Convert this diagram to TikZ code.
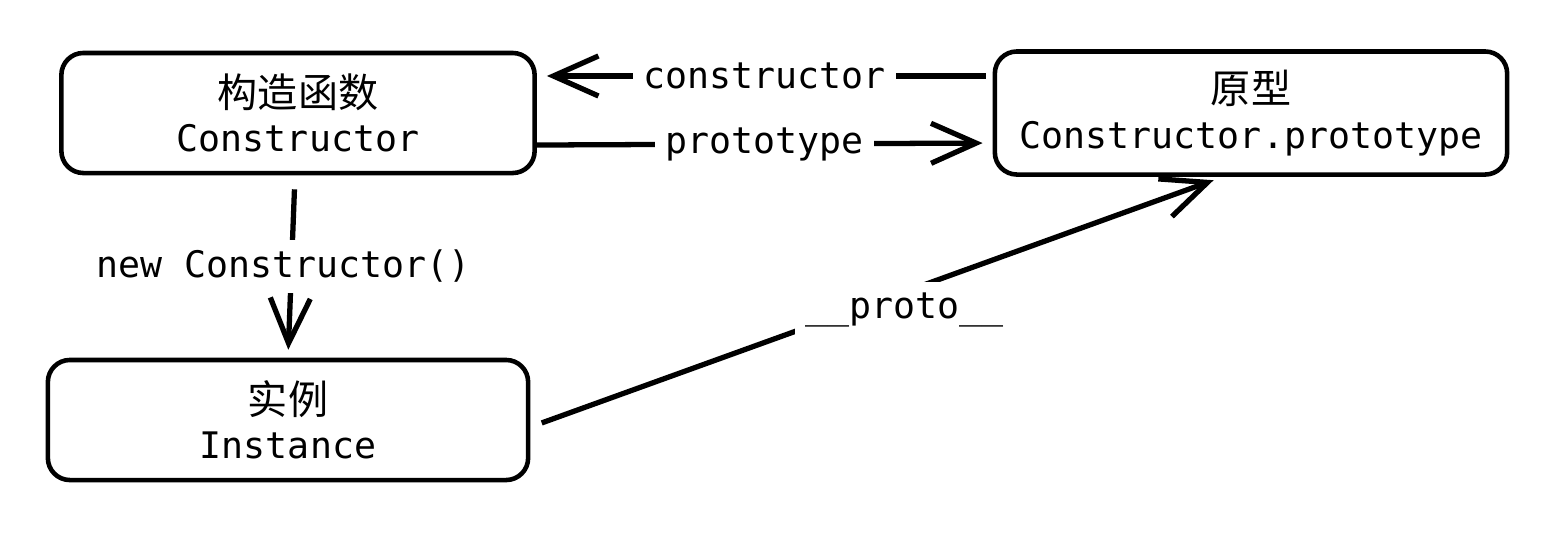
\documentclass[tikz,border=0pt]{standalone}
\usepackage{fontspec}
\setmonofont{DejaVu Sans Mono}
\newfontfamily\cjk{Noto Sans CJK SC}
\usetikzlibrary{arrows.meta}

\tikzset{
  box/.style={draw, line width=1.3pt, rounded corners=0.22cm, align=center,
    font=\fontsize{10.4}{13.6}\selectfont\ttfamily},
  link/.style={line width=1.5pt, -{Straight Barb[length=4.5mm, width=4mm, line width=1.5pt]}},
  lbl/.style={fill=white, inner sep=3pt, font=\fontsize{10.4}{12}\selectfont\ttfamily}
}

\begin{document}
\begin{tikzpicture}[x=0.01cm, y=-0.01cm]
            \useasboundingbox (0,0) rectangle (1546,536);
            \node[box, minimum width=4.73cm, minimum height=1.2cm] (ctor) at (298,113) {{\cjk\fontsize{11.4}{13.6}\selectfont 构造函数}\\[-1pt]Constructor};
            \node[box, minimum width=5.12cm, minimum height=1.23cm] (proto) at (1251,113) {{\cjk\fontsize{11.4}{13.6}\selectfont 原型}\\[-1pt]Constructor.prototype};
            \node[box, minimum width=4.8cm, minimum height=1.2cm] (inst) at (288,420) {{\cjk\fontsize{11.4}{13.6}\selectfont 实例}\\[-1pt]Instance};
            \draw[link, shorten <=0.07cm, shorten >=0.1cm] ([yshift=0.37cm]proto.west) to node[lbl] {constructor} ([yshift=0.37cm]ctor.east);
            \draw[link, shorten >=0.1cm] ([yshift=-0.32cm]ctor.east) to node[lbl] {prototype} ([yshift=-0.3cm]proto.west);
            \draw[link, shorten <=0.14cm, shorten >=0.08cm] ([xshift=-0.03cm]ctor.south) to node[lbl, xshift=-0.08cm] {new Constructor()} (inst.north);
            \draw[link, shorten <=0.12cm, shorten >=0.1cm] ([yshift=-0.07cm]inst.east) to node[lbl, pos=0.54, yshift=-0.18cm] {\_\_proto\_\_} ([xshift=-0.28cm]proto.south);
\end{tikzpicture}
\end{document}
